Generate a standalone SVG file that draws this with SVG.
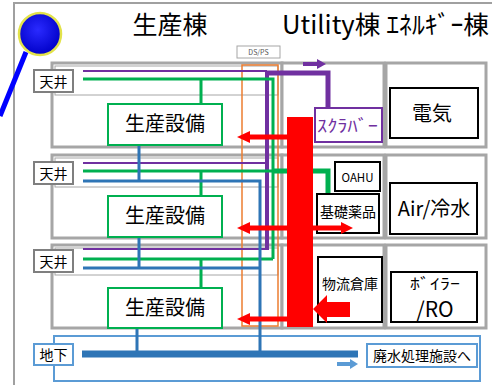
<svg xmlns="http://www.w3.org/2000/svg" width="492" height="385" viewBox="0 0 492 385">
<defs>
<radialGradient id="ball" cx="45%" cy="40%" r="60%">
<stop offset="0" stop-color="#2a2aff"/>
<stop offset="1" stop-color="#0000c8"/>
</radialGradient>
</defs>
<style>
text{font-family:"Noto Sans CJK JP","Noto Sans",sans-serif;fill:#000}
.floor{fill:#fff;stroke:#a6a6a6;stroke-width:3}
.ceil{fill:none;stroke:#a6a6a6;stroke-width:1}
.lbl{fill:#fff;stroke:#7f7f7f;stroke-width:2}
.lblb{fill:#fff;stroke:#5b9bd5;stroke-width:2}
.eq{fill:#fff;stroke:#00b050;stroke-width:2}
.blk{fill:#fff;stroke:#000;stroke-width:2}
.pu{stroke:#7030a0;fill:none}
.gr{stroke:#00b050;fill:none}
.bl{stroke:#2e75b6;fill:none}
.rd{stroke:#ff0000;fill:none;stroke-width:5}
.rh{fill:#ff0000}
.c{text-anchor:middle}
</style>
<rect width="492" height="385" fill="#fff"/>
<g id="frame">
<path d="M14,385 V3 H492" fill="none" stroke="#a0a0a0" stroke-width="2"/>
<line x1="26" y1="52" x2="0" y2="116" stroke="#0000ff" stroke-width="5"/>
<circle cx="40" cy="34" r="21" fill="url(#ball)" stroke="#e2e24a" stroke-width="2.5"/>
<text x="170" y="34" font-size="25" class="c">生産棟</text>
<text x="282" y="34" font-size="25" textLength="207" lengthAdjust="spacingAndGlyphs">Utility棟 ｴﾈﾙｷﾞｰ棟</text>
</g>
<g id="floors">
<rect class="floor" x="52" y="63" width="230" height="84"/>
<rect class="floor" x="282" y="63" width="102" height="84"/>
<rect class="floor" x="386" y="63" width="100" height="84"/>
<rect class="floor" x="52" y="155" width="230" height="83"/>
<rect class="floor" x="282" y="155" width="102" height="83"/>
<rect class="floor" x="386" y="155" width="100" height="83"/>
<rect class="floor" x="52" y="245" width="230" height="83"/>
<rect class="floor" x="282" y="245" width="102" height="83"/>
<rect class="floor" x="386" y="245" width="100" height="83"/>
<rect class="ceil" x="55" y="66" width="223" height="29"/>
<rect class="ceil" x="55" y="158" width="223" height="29"/>
<rect class="ceil" x="55" y="248" width="223" height="27"/>
<rect x="54" y="336" width="426" height="45" fill="none" stroke="#5b9bd5" stroke-width="2"/>
</g>
<g id="shaft">
<rect x="237" y="46" width="43" height="12" fill="#fff" stroke="#a6a6a6" stroke-width="1"/>
<text x="258.5" y="55" font-size="7" class="c" style="fill:#555">DS/PS</text>
<rect x="242" y="65" width="36" height="261" fill="none" stroke="#ed7d31" stroke-width="1.5"/>
</g>
<g id="connectors">
<path class="pu" stroke-width="2" d="M83,71 H267 M83,163 H267 M83,249 H267"/>
<path class="pu" stroke-width="4" d="M267,250 V73"/>
<path class="pu" stroke-width="5" d="M265,73 H328 V108"/>
<path class="gr" stroke-width="3" d="M83,79 H273 V259 M201,79 V104 M83,171 H273 M201,171 V196 M83,259 H273 M201,259 V288"/>
<path class="gr" stroke-width="5" d="M272,171 H328 V194"/>
<path class="bl" stroke-width="3" d="M139,145 V181 M83,181 H260 V354 M139,237 V268 M83,268 H260 M137,328 V354"/>
<path class="bl" stroke-width="7" d="M82,354 H358"/>
<path d="M337,364 H351" stroke="#5b9bd5" stroke-width="4"/>
<polygon points="358,364 350,359 350,369" fill="#5b9bd5"/>
<path d="M303,64 H318" class="pu" stroke-width="4"/>
<polygon points="326,64 317,59 317,69" fill="#7030a0"/>
</g>
<g id="riser">
<rect x="287" y="117" width="26" height="210" fill="#ff0000"/>
</g>
<g id="equip1"><rect class="eq" x="108" y="104" width="114" height="41"/><text x="165" y="131" font-size="20" class="c">生産設備</text></g>
<g id="equip2"><rect class="eq" x="108" y="196" width="114" height="41"/><text x="165" y="223" font-size="20" class="c">生産設備</text></g>
<g id="equip3"><rect class="eq" x="108" y="288" width="114" height="40"/><text x="165" y="315" font-size="20" class="c">生産設備</text></g>
<g id="ceil1"><rect class="lbl" x="34" y="70" width="39" height="22"/><text x="53.5" y="86.5" font-size="14" class="c">天井</text></g>
<g id="ceil2"><rect class="lbl" x="34" y="162" width="39" height="22"/><text x="53.5" y="178.5" font-size="14" class="c">天井</text></g>
<g id="ceil3"><rect class="lbl" x="34" y="250" width="39" height="22"/><text x="53.5" y="266.5" font-size="14" class="c">天井</text></g>
<g id="basement"><rect class="lblb" x="34" y="344" width="39" height="21"/><text x="53.5" y="360" font-size="14" class="c">地下</text></g>
<g id="scrubber"><rect x="315" y="108" width="67" height="34" fill="#fff" stroke="#7030a0" stroke-width="2"/><text x="317" y="132" font-size="17" textLength="61" lengthAdjust="spacingAndGlyphs" style="fill:#7030a0">ｽｸﾗﾊﾞｰ</text></g>
<g id="denki"><rect class="blk" x="390" y="88" width="88" height="50"/><text x="432" y="121" font-size="20" class="c">電気</text></g>
<g id="oahu"><rect class="blk" x="335" y="162" width="45" height="29"/><text x="357.5" y="182" font-size="11.5" class="c">OAHU</text></g>
<g id="kiso"><rect class="blk" x="317" y="194" width="62" height="39"/><text x="348" y="217" font-size="14" class="c">基礎薬品</text></g>
<g id="air"><rect class="blk" x="390" y="183" width="87" height="51"/><text x="434" y="216" font-size="20" class="c">Air/冷水</text></g>
<g id="butsuryu"><rect class="blk" x="318" y="257" width="64" height="65"/><text x="350" y="289" font-size="14" class="c">物流倉庫</text></g>
<g id="boiler"><rect class="blk" x="391" y="272" width="86" height="50"/><text x="435" y="289" font-size="15" class="c" textLength="50" lengthAdjust="spacingAndGlyphs">ﾎﾞｲﾗｰ</text><text x="435" y="317" font-size="21" class="c">/RO</text></g>
<g id="haisui"><rect class="lblb" x="367" y="344" width="110" height="23"/><text x="422" y="361" font-size="14" class="c">廃水処理施設へ</text></g>
<g id="red-arrows">
<path class="rd" d="M287,137 H248 M248,228 H343 M287,319 H248"/>
<polygon class="rh" points="237,137 250,131 250,143"/>
<polygon class="rh" points="237,228 250,222 250,234"/>
<polygon class="rh" points="237,319 250,313 250,325"/>
<polygon class="rh" points="353,228 341,222 341,234"/>
<polygon class="rh" points="350,302 327,302 327,295 313,309 327,323 327,317 350,317"/>
</g>
</svg>
